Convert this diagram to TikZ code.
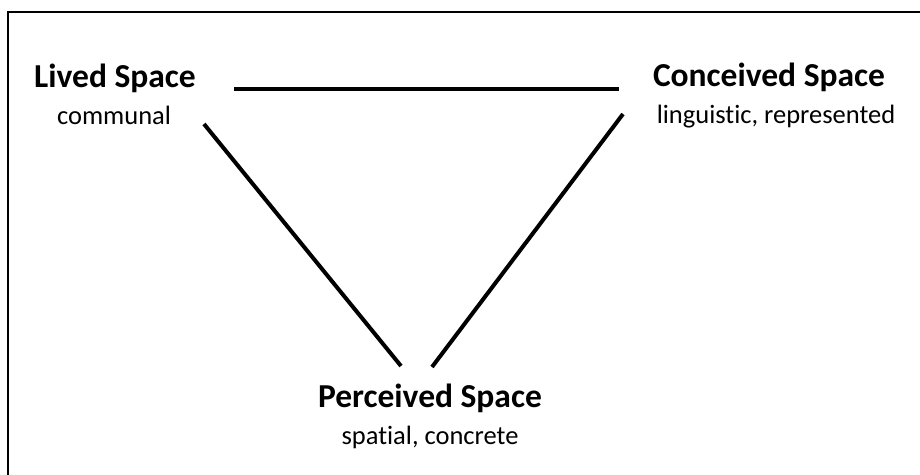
\documentclass[tikz,border=0pt]{standalone}
\usepackage{fontspec}
\setmainfont{Carlito}[Ligatures={TeX,NoCommon}]
\begin{document}
\begin{tikzpicture}[x=1pt,y=-1pt,
  title/.style={font=\fontsize{33.5}{38}\selectfont\bfseries, inner sep=0pt, anchor=base},
  sub/.style={font=\fontsize{26.5}{30}\selectfont, inner sep=0pt, anchor=base},
  edge/.style={line width=4pt}]
\useasboundingbox (0,0) rectangle (920,474);
\begin{scope}
\clip (0,0) rectangle (920,474);
\draw[line width=2pt] (8,480) -- (8,12) -- (930,12);
\end{scope}
\node[title] (lived) at (115,87) {Lived Space};
\node[sub] (livedsub) at (114,124) {communal};
\node[title] (conc) at (769,86) {Conceived Space};
\node[sub] (concsub) at (776,123) {linguistic, represented};
\node[title] (perc) at (430,407) {Perceived Space};
\node[sub] (percsub) at (430,444) {spatial, concrete};
\coordinate (a1) at (234,89);
\coordinate (a2) at (619,89);
\coordinate (b1) at (204,124);
\coordinate (b2) at (401,366);
\coordinate (c1) at (623,114);
\coordinate (c2) at (432,367);
\draw[edge] (a1) -- (a2);
\draw[edge] (b1) -- (b2);
\draw[edge] (c1) -- (c2);
\end{tikzpicture}
\end{document}
